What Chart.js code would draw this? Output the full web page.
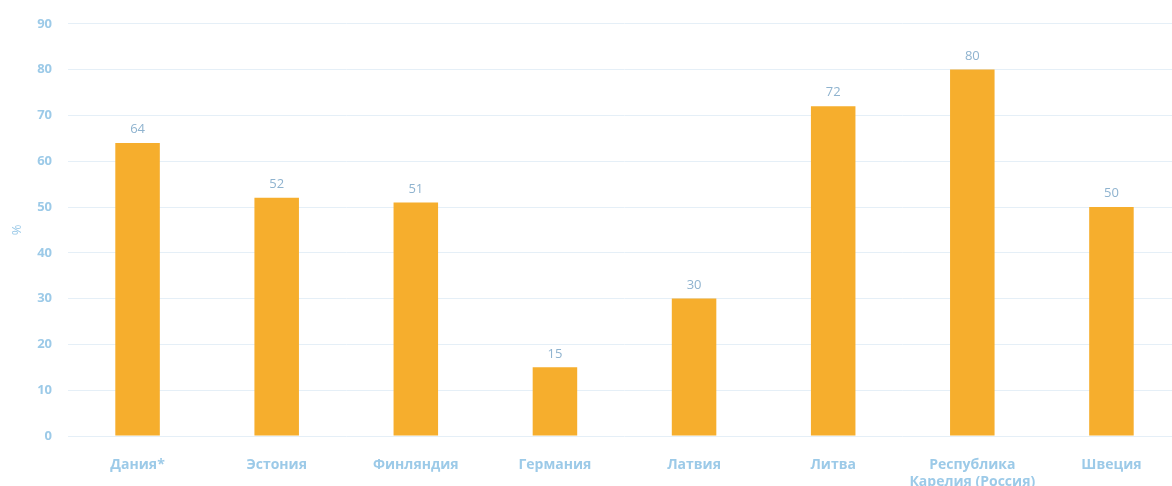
<!DOCTYPE html>
<html>
<head>
    <title>Доля, %</title>
    <script src="https://cdn.jsdelivr.net/npm/chart.js"></script>
    <style>
        body { margin: 0; background: #fff; overflow: hidden; }
        .wrap { width: 1181px; height: 486px; }
    </style>
</head>
<body>
    <div class="wrap">
        <canvas id="share-bar-chart"></canvas>
    </div>

    <script>
        const countries = ['Дания*', 'Эстония', 'Финляндия', 'Германия', 'Латвия', 'Литва', ['Республика', 'Карелия (Россия)'], 'Швеция'];
        const shares = [64, 52, 51, 15, 30, 72, 80, 50];
        const yTicks = [0, 10, 20, 30, 40, 50, 60, 70, 80, 90];

        const labelColor = '#9ccae8';
        const valueColor = '#8fb3cf';

        // draw the value above every bar
        const valueLabels = {
            id: 'valueLabels',
            afterDatasetsDraw(chart) {
                const ctx = chart.ctx;
                const meta = chart.getDatasetMeta(0);
                ctx.save();
                ctx.font = '13px "Open Sans"';
                ctx.fillStyle = valueColor;
                ctx.textAlign = 'center';
                ctx.textBaseline = 'bottom';
                meta.data.forEach((bar, i) => {
                    ctx.fillText(shares[i], bar.x, bar.y - 7);
                });
                ctx.restore();
            }
        };

        const ctx = document.getElementById('share-bar-chart').getContext('2d');
        new Chart(ctx, {
            type: 'bar',
            data: {
                labels: countries,
                datasets: [{
                    label: '%',
                    data: shares,
                    backgroundColor: '#f6ae2d',
                    barPercentage: 0.32,
                    categoryPercentage: 1
                }]
            },
            options: {
                responsive: true,
                maintainAspectRatio: false,
                animation: false,
                layout: { padding: { top: 16, right: 0, left: 0, bottom: 0 } },
                plugins: {
                    legend: { display: false },
                    tooltip: { enabled: false }
                },
                scales: {
                    x: {
                        grid: { display: false },
                        border: { display: false },
                        ticks: {
                            color: labelColor,
                            padding: 12,
                            maxRotation: 0,
                            autoSkip: false,
                            font: { family: 'Open Sans', size: 14, weight: 'bold', lineHeight: 1.25 }
                        },
                        afterFit(scale) { scale.height = 50; }
                    },
                    y: {
                        min: 0,
                        max: 90,
                        afterBuildTicks(scale) { scale.ticks = yTicks.map(v => ({ value: v })); },
                        grid: { color: '#e5eff7', drawTicks: false },
                        border: { display: false },
                        ticks: {
                            color: labelColor,
                            padding: 16,
                            font: { family: 'Open Sans', size: 13, weight: 'bold' }
                        },
                        title: {
                            display: true,
                            text: '%',
                            color: labelColor,
                            font: { family: 'Open Sans', size: 13 },
                            padding: { top: 9, bottom: 0 }
                        },
                        afterFit(scale) { scale.width = 68; }
                    }
                }
            },
            plugins: [valueLabels]
        });
    </script>
</body>
</html>
